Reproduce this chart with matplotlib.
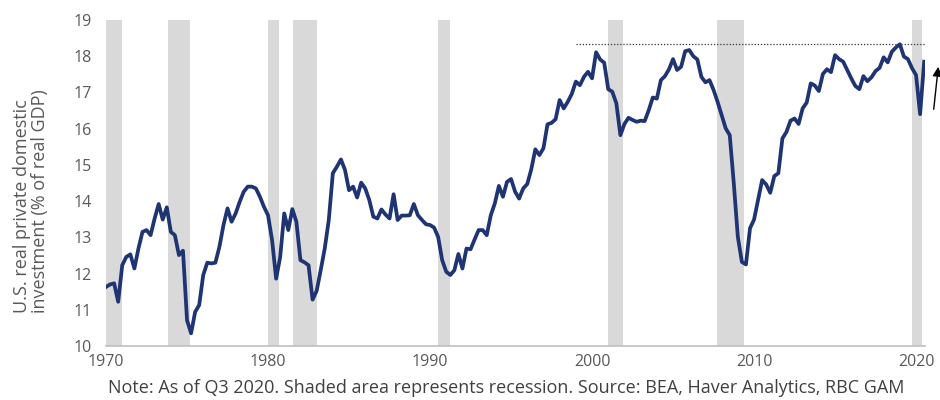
import matplotlib
matplotlib.use("Agg")
import matplotlib.pyplot as plt
import numpy as np

# quarterly values, 1970Q1 .. 2020Q3
start_year = 1970
invest_share = [
    11.63, 11.70, 11.73, 11.22, 12.23, 12.46, 12.53, 12.14, 12.69, 13.15,
    13.20, 13.06, 13.52, 13.92, 13.49, 13.83, 13.15, 13.06, 12.51, 12.63,
    10.71, 10.35, 10.94, 11.13, 11.96, 12.30, 12.28, 12.30, 12.74, 13.34,
    13.80, 13.43, 13.66, 13.98, 14.26, 14.40, 14.40, 14.35, 14.12, 13.84,
    13.61, 12.92, 11.86, 12.46, 13.66, 13.20, 13.78, 13.43, 12.37, 12.31,
    12.23, 11.28, 11.52, 12.09, 12.69, 13.48, 14.77, 14.95, 15.15, 14.86,
    14.30, 14.40, 14.10, 14.51, 14.35, 14.03, 13.57, 13.52, 13.77, 13.63,
    13.52, 14.19, 13.48, 13.60, 13.60, 13.61, 13.92, 13.61, 13.48, 13.36,
    13.34, 13.27, 13.01, 12.37, 12.05, 11.96, 12.09, 12.54, 12.14, 12.69,
    12.67, 12.94, 13.20, 13.20, 13.06, 13.61, 13.94, 14.42, 14.12, 14.53,
    14.61, 14.26, 14.07, 14.35, 14.47, 14.88, 15.43, 15.27, 15.46, 16.12,
    16.16, 16.26, 16.79, 16.56, 16.74, 16.96, 17.30, 17.20, 17.43, 17.57,
    17.39, 18.11, 17.91, 17.82, 17.09, 17.02, 16.70, 15.82, 16.13, 16.30,
    16.24, 16.19, 16.22, 16.21, 16.51, 16.86, 16.83, 17.34, 17.45, 17.64,
    17.92, 17.62, 17.71, 18.14, 18.17, 18.00, 17.91, 17.43, 17.28, 17.34,
    17.07, 16.74, 16.38, 16.01, 15.82, 14.49, 13.01, 12.32, 12.25, 13.25,
    13.49, 14.03, 14.58, 14.46, 14.23, 14.69, 14.77, 15.73, 15.91, 16.22,
    16.28, 16.13, 16.56, 16.72, 17.25, 17.19, 17.04, 17.51, 17.64, 17.56,
    18.03, 17.92, 17.85, 17.62, 17.39, 17.18, 17.09, 17.45, 17.31, 17.42,
    17.59, 17.68, 17.97, 17.83, 18.12, 18.24, 18.33, 17.99, 17.92, 17.67,
    17.48, 16.40, 17.85,
]

# recession periods (start, end) in fractional years
recessions = [
    (1970.0, 1971.0), (1973.83, 1975.2), (1980.0, 1980.7), (1981.55, 1983.0),
    (1990.5, 1991.25), (2001.0, 2001.92), (2007.72, 2009.4), (2019.75, 2020.37),
]

peak_line_start = 1999.0
year_ticks = [1970, 1980, 1990, 2000, 2010, 2020]
value_ticks = list(range(10, 20))

note = ("Note: As of Q3 2020. Shaded area represents recession. "
        "Source: BEA, Haver Analytics, RBC GAM")
ylab = "U.S. real private domestic\ninvestment (% of real GDP)"

line_color = "#1F3472"
shade_color = "#D9D9D9"
text_color = "#595959"

plt.rcParams["font.family"] = ["Open Sans", "DejaVu Sans"]

years = start_year + np.arange(len(invest_share)) / 4.0
peak = max(invest_share)

fig = plt.figure(figsize=(9.4, 4.0), dpi=100)
ax = fig.add_axes([0.1128, 0.135, 0.8712, 0.815])

for s, e in recessions:
    ax.axvspan(s, e, color=shade_color, lw=0, zorder=0)

ax.plot(years, invest_share, color=line_color, lw=2.7, zorder=3,
        solid_joinstyle="round")
ax.plot([peak_line_start, years[-1] + 0.05], [peak, peak], color="#333333",
        lw=0.9, ls=(0, (1, 1.5)), zorder=2, clip_on=False)

ax.set_xlim(1970, years[-1] + 0.05)
ax.set_ylim(10, 19)
ax.set_xticks(year_ticks)
ax.set_yticks(value_ticks)
ax.tick_params(length=0, labelsize=11.5, colors=text_color)
ax.tick_params(axis="y", pad=10)
ax.tick_params(axis="x", pad=6)

for side in ["left", "right", "top"]:
    ax.spines[side].set_visible(False)
ax.spines["bottom"].set_color("#BFBFBF")
ax.spines["bottom"].set_linewidth(1.2)

fig.text(0.033, 0.497, ylab, rotation=90, ha="center", va="center",
         multialignment="left", fontsize=13, color=text_color,
         linespacing=1.0)
fig.text(0.539, 0.03, note, ha="center", va="center", fontsize=13,
         color="#404040")

# arrow on the right edge pointing to the latest rebound
ax.annotate("", xy=(0.9985, 0.84), xytext=(0.993, 0.72),
            xycoords="figure fraction", textcoords="figure fraction",
            arrowprops=dict(arrowstyle="-|>", color="black", lw=1.0,
                            mutation_scale=14))

fig.savefig("out.png", dpi=100)
